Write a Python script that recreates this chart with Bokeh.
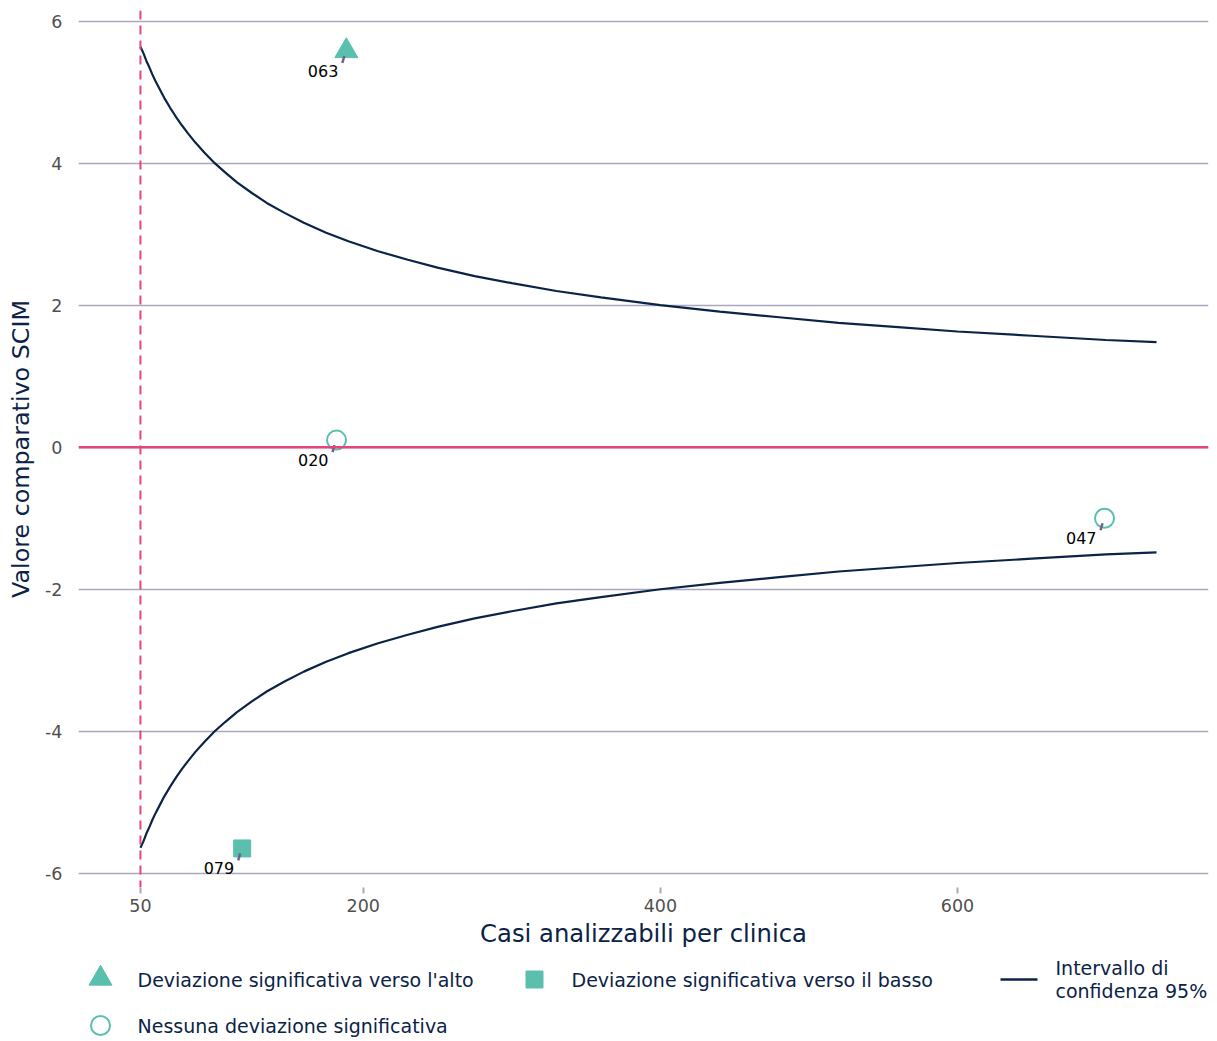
from bokeh.plotting import figure
from bokeh.layouts import column
from bokeh.models import FixedTicker, Span
from bokeh.core.properties import value
from bokeh.embed import file_html
from bokeh.resources import INLINE

# ---- data ----
ci_n = [50, 52, 54, 56, 58, 60, 63, 66, 70, 74, 78, 82, 87, 93, 100, 107, 115,
        125, 135, 147, 160, 175, 190, 210, 230, 250, 275, 300, 330, 360, 400,
        440, 480, 520, 560, 600, 650, 700, 734]
ci_upper = [5.64, 5.55, 5.44, 5.35, 5.25, 5.16, 5.04, 4.92, 4.78, 4.65, 4.53,
            4.42, 4.29, 4.15, 4.00, 3.87, 3.73, 3.58, 3.44, 3.30, 3.16, 3.02,
            2.90, 2.76, 2.64, 2.53, 2.41, 2.31, 2.20, 2.11, 2.00, 1.91, 1.83,
            1.75, 1.69, 1.63, 1.57, 1.51, 1.48]
ci_lower = [-5.64, -5.55, -5.44, -5.35, -5.25, -5.16, -5.04, -4.92, -4.78,
            -4.65, -4.53, -4.42, -4.29, -4.15, -4.00, -3.87, -3.73, -3.58,
            -3.44, -3.30, -3.16, -3.02, -2.90, -2.76, -2.64, -2.53, -2.41,
            -2.31, -2.20, -2.11, -2.00, -1.91, -1.83, -1.75, -1.69, -1.63,
            -1.57, -1.51, -1.48]

up_ids = ["063"]
up_x = [188.6]
up_y = [5.58]

down_ids = ["079"]
down_x = [118.5]
down_y = [-5.65]

none_ids = ["020", "047"]
none_x = [182.0, 699.0]
none_y = [0.1, -1.0]

x_ticks = [50, 200, 400, 600]
y_ticks = [-6, -4, -2, 0, 2, 4, 6]
y_tick_labels = ["-6", "-4", "-2", "0", "2", "4", "6"]
min_cases = 50

# ---- style ----
FONT = "DejaVu Sans"
NAVY = "#0b2346"
TEAL = "#5bbfad"
PINK = "#e4467b"
GRID = "#aaa8bf"
LEADER = "#6b6589"

X0, X1 = 8.3, 769.0
Y0, Y1 = -6.2, 6.15
FW, FH = 1130, 877
BL, BR = 78, 9

p = figure(width=1217, height=950, frame_width=FW, frame_height=FH,
           x_range=(X0, X1), y_range=(Y0, Y1),
           output_backend="svg", toolbar_location=None,
           min_border_left=BL, min_border_right=BR, min_border_top=10,
           min_border_bottom=63)
p.outline_line_color = None
p.background_fill_color = "white"
p.xgrid.visible = False
p.ygrid.grid_line_color = GRID
p.ygrid.grid_line_width = 1.3
p.ygrid.ticker = FixedTicker(ticks=y_ticks)

p.xaxis.ticker = FixedTicker(ticks=x_ticks)
p.yaxis.ticker = FixedTicker(ticks=y_ticks)
p.yaxis.major_label_overrides = {t: s for t, s in zip(y_ticks, y_tick_labels)}
for ax in (p.xaxis[0], p.yaxis[0]):
    ax.axis_line_color = None
    ax.minor_tick_line_color = None
    ax.major_label_text_font = FONT
    ax.major_label_text_font_size = "17.5px"
    ax.major_label_text_color = "#505050"
    ax.axis_label_text_font = FONT
    ax.axis_label_text_font_style = "normal"
    ax.axis_label_text_color = NAVY
p.xaxis.major_tick_line_color = GRID
p.xaxis.major_tick_line_width = 2
p.xaxis.major_tick_in = 0
p.xaxis.major_tick_out = 6
p.xaxis.major_label_standoff = 5
p.xaxis.axis_label = "Casi analizzabili per clinica"
p.xaxis.axis_label_text_font_size = "24.3px"
p.xaxis.axis_label_standoff = 4
p.yaxis.major_tick_line_color = None
p.yaxis.major_tick_in = 0
p.yaxis.major_tick_out = 0
p.yaxis.major_label_standoff = 16
p.yaxis.axis_label = "Valore comparativo SCIM"
p.yaxis.axis_label_text_font_size = "23.8px"
p.yaxis.axis_label_standoff = 7

# reference lines
p.add_layout(Span(location=0, dimension="width", line_color=PINK, line_width=2.5))
p.add_layout(Span(location=min_cases, dimension="height", line_color=PINK,
                  line_width=2, line_dash="9 6"))

# confidence curves
p.line(ci_n, ci_upper, line_color=NAVY, line_width=2.2)
p.line(ci_n, ci_lower, line_color=NAVY, line_width=2.2)

# points
p.scatter(up_x, up_y, marker="triangle", size=23, fill_color=TEAL, line_color=TEAL)
p.scatter(down_x, down_y, marker="square", size=17, fill_color=TEAL, line_color=TEAL)
p.scatter(none_x, none_y, marker="circle", size=19, fill_alpha=0,
          line_color=TEAL, line_width=2)

# labels with leader lines
sx = (X1 - X0) / FW
sy = (Y1 - Y0) / FH
all_ids = up_ids + down_ids + none_ids
all_x = up_x + down_x + none_x
all_y = up_y + down_y + none_y
p.segment(x0=[x - 4 * sx for x in all_x], y0=[y - 12 * sy for y in all_y],
          x1=[x - 2 * sx for x in all_x], y1=[y - 5 * sy for y in all_y],
          line_color=LEADER, line_width=2.5)
p.text(x=all_x, y=all_y, text=all_ids, x_offset=-8, y_offset=20,
       text_align="right", text_baseline="middle", text_font=value(FONT),
       text_font_size="16px", text_color="black")

# ---- legend (page-pixel coordinates; frame aligned with the main plot) ----
lg = figure(width=1217, height=91, frame_width=FW, frame_height=91,
            x_range=(BL, BL + FW), y_range=(91, 0),
            output_backend="svg", toolbar_location=None,
            min_border_left=BL, min_border_right=BR, min_border_top=0,
            min_border_bottom=0, outline_line_color=None)
lg.axis.visible = False
lg.grid.visible = False
lg.scatter([100], [28], marker="triangle", size=23, fill_color=TEAL, line_color=TEAL)
lg.scatter([534], [29], marker="square", size=17, fill_color=TEAL, line_color=TEAL)
lg.scatter([100], [75], marker="circle", size=19, fill_alpha=0, line_color=TEAL,
           line_width=2)
lg.line([1000, 1037], [29, 29], line_color=NAVY, line_width=2.5)
lg.text(x=[137, 571, 137, 1055, 1055],
        y=[29, 29, 75, 17, 40],
        text=["Deviazione significativa verso l'alto",
              "Deviazione significativa verso il basso",
              "Nessuna deviazione significativa",
              "Intervallo di", "confidenza 95%"],
        text_align="left", text_baseline="middle", text_font=value(FONT),
        text_font_size="19px", text_color=NAVY)

layout = column(p, lg, spacing=0)
open("out.html", "w").write(file_html(layout, INLINE))
